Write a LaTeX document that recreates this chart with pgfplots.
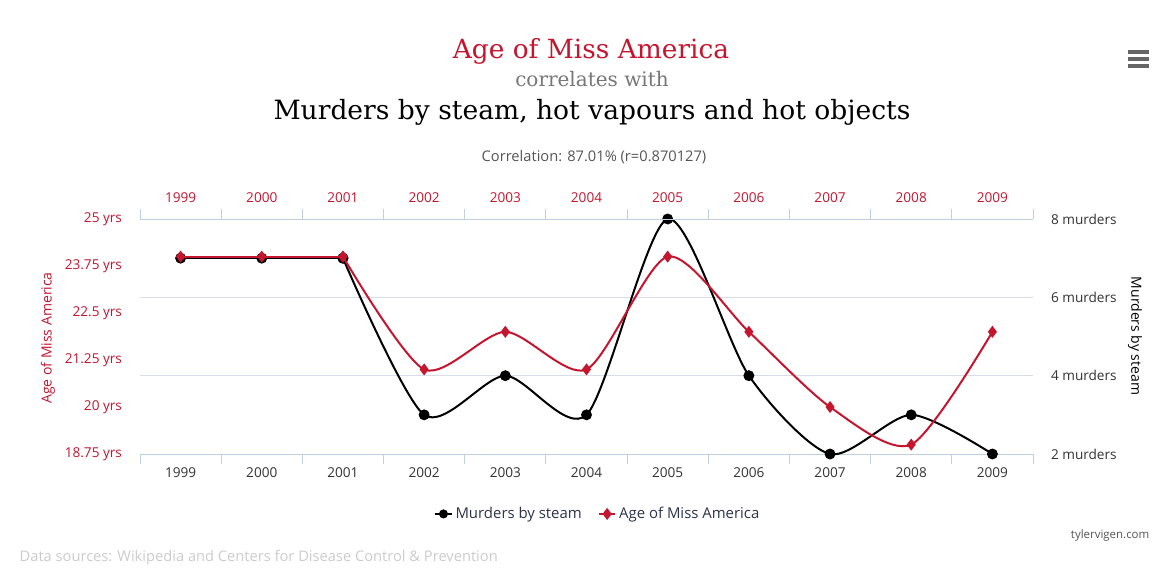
\documentclass[border=0pt]{standalone}
\usepackage{fontspec}
\usepackage{pgfplots}
\pgfplotsset{compat=1.18}
\setmainfont{Open Sans}
\newfontfamily\titlefont{DejaVu Serif}
\definecolor{mred}{RGB}{197,22,48}
\definecolor{gridc}{RGB}{216,222,233}
\definecolor{axisc}{RGB}{192,208,224}
\definecolor{tickc}{RGB}{51,51,51}
\definecolor{legc}{RGB}{45,52,75}
\definecolor{subg}{RGB}{119,119,119}
\definecolor{corrg}{RGB}{85,85,85}
\definecolor{srcg}{RGB}{204,204,204}
\definecolor{menug}{RGB}{102,102,102}

\pgfplotstableread{
x murders age
0 7 24
1 7 24
2 7 24
3 3 21
4 4 22
5 3 21
6 8 24
7 4 22
8 2 20
9 3 19
10 2 22
}\datatable

\pgfplotsset{
  common/.style={
    scale only axis, width=669.75pt, height=176.25pt,
    at={(105pt,85.5pt)}, anchor=south west,
    xmin=-0.5, xmax=10.5,
    xtick={0,...,10},
    xticklabels={1999,2000,2001,2002,2003,2004,2005,2006,2007,2008,2009},
    minor xtick={-0.5,0.5,...,10.5},
    major tick length=0pt, minor tick length=7.5pt, tick align=outside,
    minor x tick style={axisc, line width=0.75pt},
    major tick style={draw=none},
    y axis line style={draw=none},
    x axis line style={-, axisc, line width=0.75pt},
    tick label style={font=\fontsize{10.2}{12}\selectfont},
    clip=false,
  },
}

\begin{document}
\begin{tikzpicture}
\begin{scope}[x=0.75pt,y=0.75pt]
\fill[white] (0,0) rectangle (1154,568);
\node[mred, font=\titlefont\fontsize{19.8}{24}\selectfont] at (591,568-51) {Age of Miss America};
\node[subg, font=\titlefont\fontsize{15}{17}\selectfont] at (592,568-79) {correlates with};
\node[black, font=\titlefont\fontsize{19.9}{26}\selectfont] at (592,568-112) {Murders by steam, hot vapours and hot objects};
\node[corrg, font=\fontsize{11}{13}\selectfont] at (594,568-157) {Correlation: 87.01\% (r=0.870127)};
\foreach \yy in {52,59,66} \draw[menug, line width=2.4pt] (1128,568-\yy) -- (1149,568-\yy);
\node[srcg, anchor=west, font=\fontsize{11}{13}\selectfont] at (15,568-558) {Data sources: Wikipedia and Centers for Disease Control \& Prevention};
\node[corrg, anchor=east, font=\fontsize{8.6}{10}\selectfont] at (1154,568-536) {tylervigen.com};
\node[mred, rotate=90, font=\fontsize{10.5}{12}\selectfont] at (48,568-338) {Age of Miss America};
\node[black, rotate=-90, font=\fontsize{10.5}{12}\selectfont] at (1135,568-336) {Murders by steam};
\end{scope}

\begin{axis}[common,
  axis x line*=bottom, axis y line*=right,
  ymin=2, ymax=8, ytick={2,4,6,8},
  yticklabels={2 murders,4 murders,6 murders,8 murders},
  ymajorgrids, grid style={gridc, line width=0.75pt},
  x tick label style={tickc, yshift=-6.5pt},
  y tick label style={tickc, anchor=west, xshift=10pt},
]
\addplot[black, line width=1.5pt, mark=*, mark size=3.3pt, mark options={solid},
  restrict x to domain=0:2] table[x=x, y=murders] {\datatable};
\addplot[black, line width=1.5pt, smooth, tension=0.45, mark=*, mark size=3.3pt,
  mark options={solid}, restrict x to domain=2:10] table[x=x, y=murders] {\datatable};
\end{axis}

\begin{axis}[common,
  axis x line*=top, axis y line*=left,
  ymin=18.75, ymax=25, ytick={18.75,20,21.25,22.5,23.75,25},
  yticklabels={18.75 yrs,20 yrs,21.25 yrs,22.5 yrs,23.75 yrs,25 yrs},
  x tick label style={mred, yshift=9pt},
  y tick label style={mred, anchor=east, xshift=-10pt},
  legend style={at={(0.513,-0.255)}, anchor=center, draw=none, fill=none,
    font=\fontsize{11.2}{13}\selectfont, text=legc,
    /tikz/every even column/.append style={column sep=10pt}},
  legend columns=2,
  legend image code/.code={
    \draw[#1, mark repeat=2, mark phase=2] plot coordinates {(0cm,0cm) (0.22cm,0cm) (0.44cm,0cm)};
  },
]
\addlegendimage{black, line width=1.5pt, mark=*, mark size=2.6pt}
\addlegendentry{Murders by steam}
\addplot[mred, line width=1.5pt, mark=diamond*, mark size=3.3pt, mark options={solid},
  restrict x to domain=0:2, forget plot] table[x=x, y=age] {\datatable};
\addplot[mred, line width=1.5pt, smooth, tension=0.45, mark=diamond*, mark size=3.3pt,
  mark options={solid}, restrict x to domain=2:10] table[x=x, y=age] {\datatable};
\addlegendentry{Age of Miss America}
\end{axis}
\end{tikzpicture}
\end{document}
